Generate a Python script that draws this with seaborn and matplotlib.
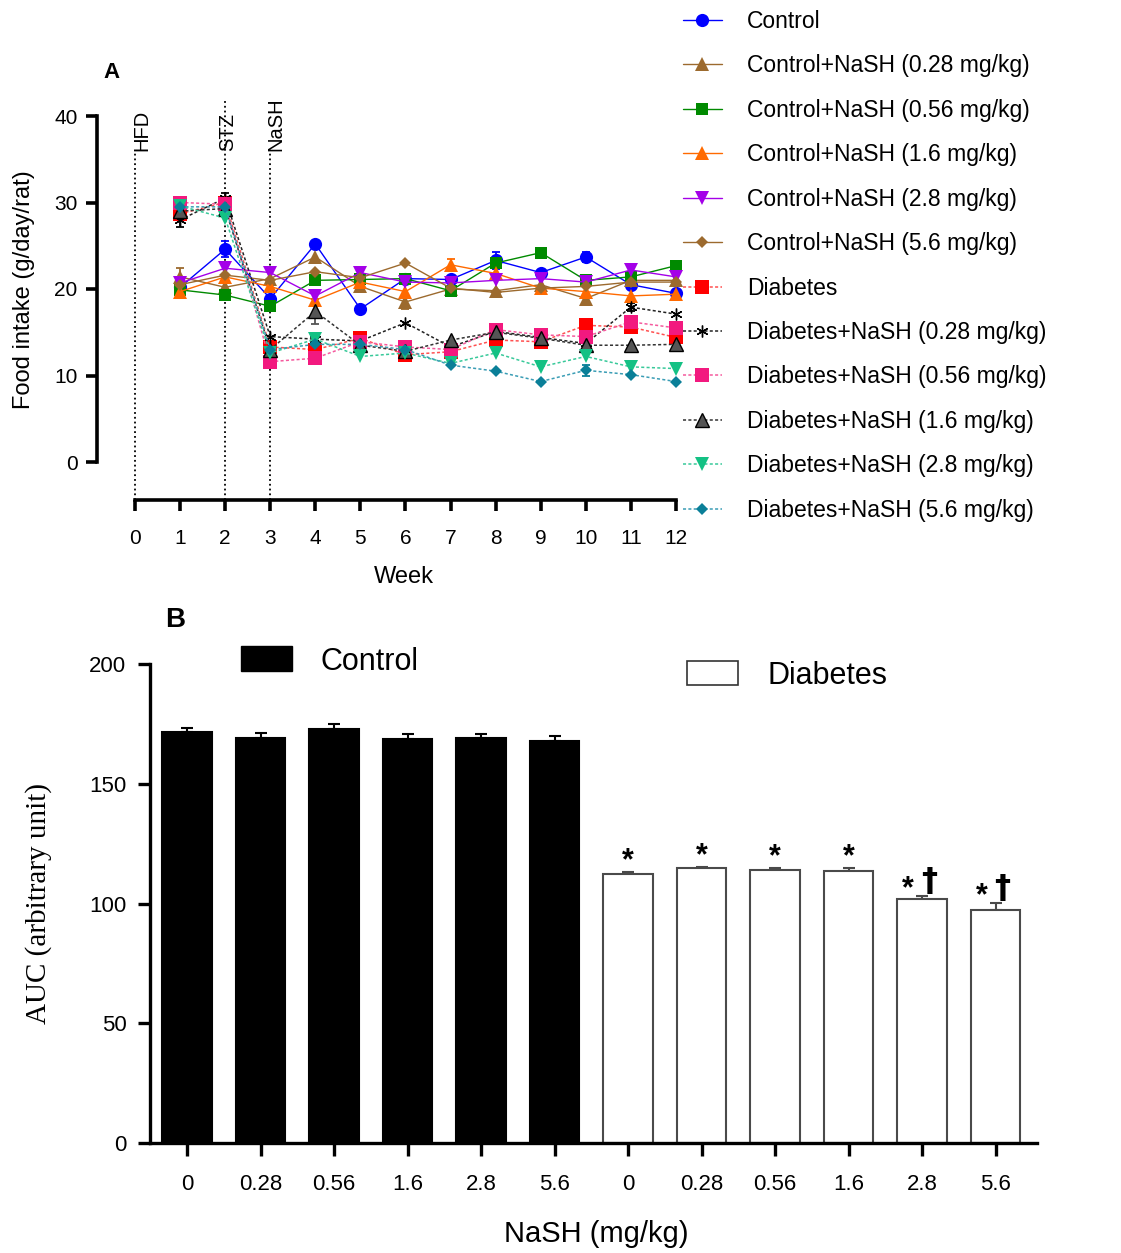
import numpy as np
import pandas as pd
import matplotlib
matplotlib.use("Agg")
import matplotlib.pyplot as plt
from matplotlib.patches import Rectangle
import seaborn as sns

# ---- panel A data: weekly food intake (g/day/rat), weeks 1..12
weeks = list(range(1, 13))
control = [20.2, 24.6, 18.9, 25.2, 17.7, 21.2, 21.1, 23.3, 21.9, 23.7, 20.5, 19.5]
control_028 = [21.4, 20.2, 21.2, 23.7, 20.3, 18.5, 20.0, 19.8, 20.5, 18.9, 21.0, 21.0]
control_056 = [19.9, 19.3, 18.0, 21.0, 21.1, 21.2, 19.8, 23.0, 24.2, 21.0, 21.4, 22.7]
control_16 = [19.7, 21.4, 20.3, 18.7, 20.8, 19.7, 22.8, 21.8, 20.1, 19.7, 19.2, 19.4]
control_28 = [20.7, 22.4, 21.9, 19.2, 21.9, 20.8, 20.7, 21.0, 21.2, 20.8, 22.2, 21.4]
control_56 = [20.5, 21.6, 21.0, 22.0, 21.3, 23.0, 20.1, 19.6, 20.1, 20.3, 20.8, 20.8]
diabetes = [28.7, 30.0, 13.3, 13.0, 14.3, 12.4, 12.75, 14.1, 13.9, 15.8, 15.6, 14.4]
diabetes_028 = [28.0, 30.5, 14.5, 14.2, 14.0, 16.1, 13.3, 15.1, 14.4, 13.7, 17.9, 17.1]
diabetes_056 = [30.0, 29.8, 11.6, 12.0, 13.9, 13.3, 13.0, 15.3, 14.7, 14.5, 16.2, 15.5]
diabetes_16 = [29.0, 29.3, 13.0, 17.4, 13.5, 12.8, 14.1, 15.0, 14.3, 13.5, 13.5, 13.6]
diabetes_28 = [29.6, 28.2, 12.6, 14.2, 12.2, 12.6, 11.4, 12.6, 11.0, 12.2, 11.0, 10.8]
diabetes_56 = [29.5, 29.5, 13.0, 13.6, 13.6, 13.0, 11.2, 10.5, 9.3, 10.6, 10.1, 9.3]

group_names = [
    "Control",
    "Control+NaSH (0.28 mg/kg)",
    "Control+NaSH (0.56 mg/kg)",
    "Control+NaSH (1.6 mg/kg)",
    "Control+NaSH (2.8 mg/kg)",
    "Control+NaSH (5.6 mg/kg)",
    "Diabetes",
    "Diabetes+NaSH (0.28 mg/kg)",
    "Diabetes+NaSH (0.56 mg/kg)",
    "Diabetes+NaSH (1.6 mg/kg)",
    "Diabetes+NaSH (2.8 mg/kg)",
    "Diabetes+NaSH (5.6 mg/kg)",
]
group_values = [control, control_028, control_056, control_16, control_28, control_56,
                diabetes, diabetes_028, diabetes_056, diabetes_16, diabetes_28, diabetes_56]

# visible error bars only (group index, week, SEM)
visible_sem = [
    (0, 1, 0.8), (0, 2, 0.9), (0, 8, 1.0), (0, 10, 0.6), (1, 1, 1.0), (1, 6, 0.8),
    (1, 5, 0.6), (2, 7, 0.6), (2, 12, 0.4), (3, 7, 0.7), (3, 10, 0.6), (4, 3, 0.7),
    (7, 1, 0.8), (7, 2, 0.6), (7, 8, 0.6), (7, 11, 0.5), (9, 4, 1.5), (8, 9, 0.5),
    (11, 10, 0.6),
]

# ---- panel B data: AUC
doses = ["0", "0.28", "0.56", "1.6", "2.8", "5.6"]
auc_control = [171.5, 169.2, 172.9, 168.7, 169.1, 167.8]
auc_control_sem = [1.9, 2.1, 2.2, 2.0, 1.5, 2.3]
auc_diabetes = [112.2, 114.7, 114.1, 113.7, 102.0, 97.4]
auc_diabetes_sem = [0.8, 0.5, 0.7, 1.2, 1.1, 2.9]
auc_marks = ["*", "*", "*", "*", "*\u2020", "*\u2020"]

# ---- styles
colors = ["#0000FF", "#9C6A2E", "#008A00", "#FF6A00", "#A400E8", "#9C6A2E",
          "#FF0000", "#000000", "#F2197F", "#555555", "#14C184", "#0A7F98"]
line_colors = ["#0000FF", "#9C6A2E", "#008A00", "#FF6A00", "#A400E8", "#9C6A2E",
               "#FF5050", "#222222", "#F55A9E", "#333333", "#38C99A", "#3A9DB5"]
markers = ["o", "^", "s", "^", "v", "D", "s", (6, 2, 0), "s", "^", "v", "D"]
msizes = [9.5, 9.5, 9, 9.5, 9.5, 6.6, 9.5, 8.5, 9.5, 9.5, 9.5, 6.6]
linestyles = ["-"] * 6 + [(0, (2, 1.5))] * 6

sns.set_style("ticks")
plt.rcParams["font.family"] = ["Liberation Sans", "DejaVu Sans"]
plt.rcParams["text.color"] = "black"
plt.rcParams["axes.labelcolor"] = "black"
plt.rcParams["xtick.color"] = "black"
plt.rcParams["ytick.color"] = "black"

fig = plt.figure(figsize=(11.21, 12.53), dpi=100)
W, H = 1121, 1253

# =================== panel A ===================
axA = fig.add_axes([97 / W, 1 - 500 / H, (690 - 97) / W, (500 - 88) / H])

rows = []
for name, vals in zip(group_names, group_values):
    for wk, v in zip(weeks, vals):
        rows.append({"week": wk, "intake": v, "group": name})
dfa = pd.DataFrame(rows)

for i, name in enumerate(group_names):
    sub = dfa[dfa["group"] == name]
    sns.lineplot(data=sub, x="week", y="intake", ax=axA, color=line_colors[i],
                 linestyle=linestyles[i], lw=1.0 if i < 6 else 1.1,
                 marker=markers[i], markersize=msizes[i],
                 markerfacecolor=colors[i],
                 markeredgecolor="black" if i == 9 else colors[i],
                 markeredgewidth=1.0 if i in (7, 9) else 0.0,
                 label=name, zorder=3 + i * 0.01)

for gi, wk, s in visible_sem:
    axA.errorbar(wk, group_values[gi][wk - 1], yerr=s, fmt="none",
                 ecolor=colors[gi], elinewidth=1.3, capsize=3, capthick=1.3, zorder=2)

ybot = (462 - 500) / 8.65
axA.set_xlim((97 - 135) / 45.08, (690 - 135) / 45.08)
axA.set_ylim(ybot, (462 - 88) / 8.65)
axA.vlines([0, 3], ybot, 36.0, colors="black", linestyles="dotted", lw=1.3, zorder=1)
axA.vlines([2], ybot, 41.8, colors="black", linestyles="dotted", lw=1.3, zorder=1)
for xv, lab in [(0.16, "HFD"), (2.05, "STZ"), (3.13, "NaSH")]:
    axA.text(xv, 36.0, lab, rotation=90, ha="center", va="bottom", fontsize=14.5)

axA.spines["top"].set_visible(False)
axA.spines["right"].set_visible(False)
axA.spines["left"].set_bounds(0, 40)
axA.spines["bottom"].set_bounds(0, 12)
for sp in ("left", "bottom"):
    axA.spines[sp].set_linewidth(2.6)
    axA.spines[sp].set_color("black")
axA.set_yticks([0, 10, 20, 30, 40])
axA.set_xticks(range(0, 13))
axA.tick_params(axis="both", width=2.6, length=8, labelsize=15)
axA.tick_params(axis="x", pad=13)
axA.tick_params(axis="y", pad=6)
axA.set_xlabel("Week", fontsize=17)
axA.set_ylabel("Food intake (g/day/rat)", fontsize=17)
axA.xaxis.set_label_coords((404 - 97) / 593, (500 - 566) / 412)
axA.yaxis.set_label_coords((35 - 97) / 593, (500 - 290) / 412)
axA.grid(False)

handles, labels = axA.get_legend_handles_labels()
if axA.get_legend() is not None:
    axA.get_legend().remove()
fig.legend(handles[:12], labels[:12], loc="upper left",
           bbox_to_anchor=(683 / W, 1 - 10 / H), frameon=False, fontsize=16.5,
           handlelength=1.7, handletextpad=1.1, labelspacing=0.935,
           borderpad=0, borderaxespad=0)

fig.text(112 / W, 1 - 73 / H, "A", fontsize=16, fontweight="bold", ha="center", va="center")

# =================== panel B ===================
axB = fig.add_axes([150 / W, 1 - 1143 / H, (1037 - 150) / W, (1143 - 664) / H])

dfb = pd.DataFrame({
    "label": [f"C {d}" for d in doses] + [f"D {d}" for d in doses],
    "auc": auc_control + auc_diabetes,
    "sem": auc_control_sem + auc_diabetes_sem,
    "group": ["Control"] * 6 + ["Diabetes"] * 6,
})
sns.barplot(data=dfb, x="label", y="auc", hue="group",
            palette={"Control": "black", "Diabetes": "white"},
            dodge=False, width=0.67, errorbar=None, legend=False, ax=axB,
            linewidth=1.5, zorder=2)
for patch, grp in zip(axB.patches, dfb["group"]):
    patch.set_edgecolor("black" if grp == "Control" else "#4a4a4a")

xpos = np.arange(len(dfb))
for grp, ecol in [("Control", "black"), ("Diabetes", "#4a4a4a")]:
    m = (dfb["group"] == grp).to_numpy()
    axB.errorbar(xpos[m], dfb["auc"][m], yerr=[np.zeros(m.sum()), dfb["sem"][m]],
                 fmt="none", ecolor=ecol, elinewidth=1.5, capsize=4.5, capthick=1.5, zorder=1)

for k, mark in enumerate(auc_marks):
    i = 6 + k
    top = auc_diabetes[k] + auc_diabetes_sem[k]
    if mark == "*":
        axB.annotate("*", (i, top), xytext=(0, -3), textcoords="offset points",
                     ha="center", va="bottom", fontsize=22, fontweight="bold")
    else:
        axB.annotate("*", (i, top), xytext=(-10, -6), textcoords="offset points",
                     ha="center", va="bottom", fontsize=22, fontweight="bold")
        axB.annotate("\u2020", (i, top), xytext=(5, -1), textcoords="offset points",
                     ha="center", va="bottom", fontsize=23, fontweight="bold",
                     family=["DejaVu Sans"])

axB.set_xlim((150 - 187) / 73.5, (1037 - 187) / 73.5)
axB.set_ylim(0, 200)
axB.set_yticks([0, 50, 100, 150, 200])
axB.set_xticks(xpos)
axB.set_xticklabels(doses + doses)
axB.spines["top"].set_visible(False)
axB.spines["right"].set_visible(False)
for sp in ("left", "bottom"):
    axB.spines[sp].set_linewidth(2.4)
    axB.spines[sp].set_color("black")
axB.tick_params(axis="both", width=2.4, length=9, labelsize=16)
axB.tick_params(axis="x", pad=13)
axB.tick_params(axis="y", pad=8)
axB.set_xlabel("NaSH (mg/kg)", fontsize=21)
axB.set_ylabel("AUC (arbitrary unit)", fontsize=21, family=["Liberation Serif"])
axB.xaxis.set_label_coords((596 - 150) / 887, (1143 - 1220) / 479)
axB.yaxis.set_label_coords((52 - 150) / 887, (1143 - 904) / 479)
axB.grid(False)

# panel B legend
fig.add_artist(Rectangle((241 / W, 1 - 671 / H), 51 / W, 25 / H, transform=fig.transFigure,
                         facecolor="black", edgecolor="black", lw=1))
fig.text(320 / W, 1 - 662 / H, "Control", fontsize=22, ha="left", va="center")
fig.add_artist(Rectangle((687 / W, 1 - 685 / H), 51 / W, 24 / H, transform=fig.transFigure,
                         facecolor="white", edgecolor="#333333", lw=1.2))
fig.text(767 / W, 1 - 676 / H, "Diabetes", fontsize=22, ha="left", va="center")

fig.text(175 / W, 1 - 620 / H, "B", fontsize=20, fontweight="bold", ha="center", va="center")

fig.savefig("out.png", dpi=100)
